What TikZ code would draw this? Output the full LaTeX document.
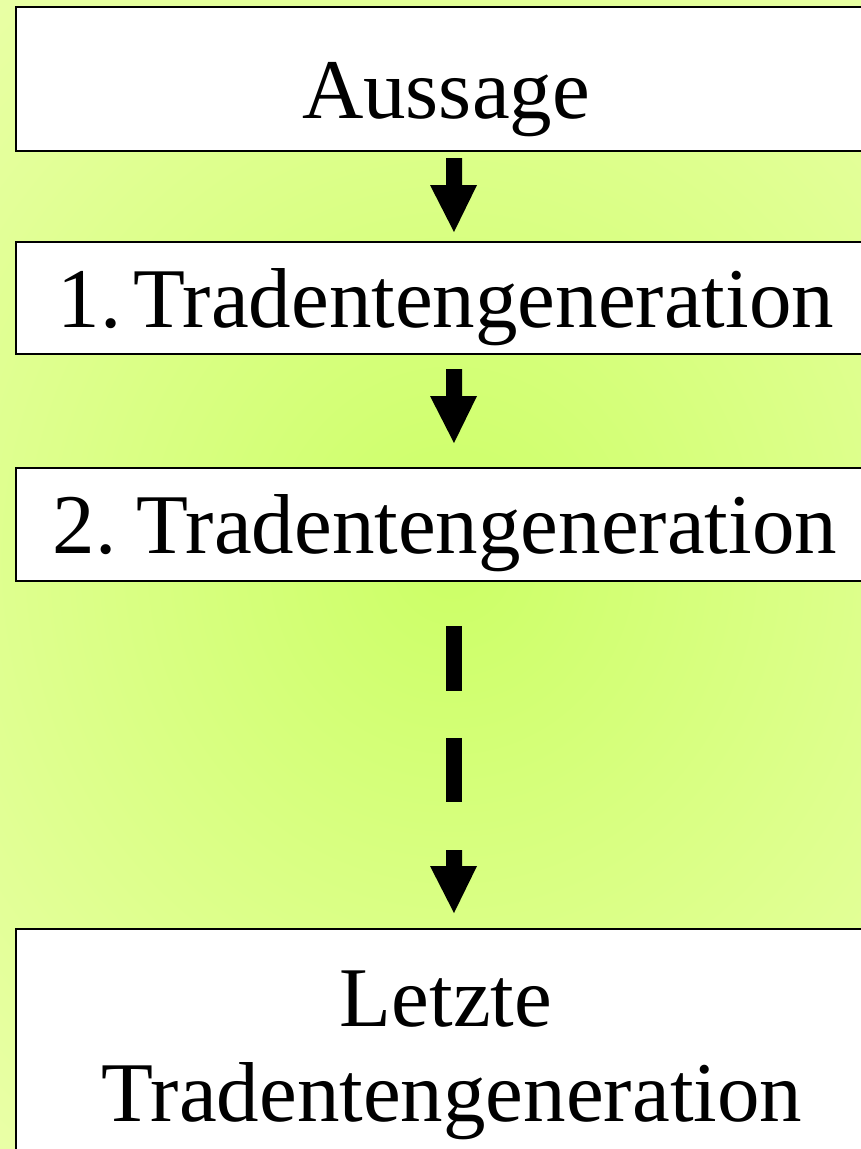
\documentclass[tikz,border=0pt]{standalone}
\usepackage{fontspec}
\setmainfont{Liberation Serif}
\definecolor{bgin}{RGB}{204,255,102}
\definecolor{bgout}{RGB}{245,255,192}
\newcommand\blockarrow[3]{\fill[black] (446,#1) -- (462,#1) -- (462,#2) -- (477,#2) -- (454,#3) -- (430,#2) -- (446,#2) -- cycle;}
\begin{document}
\begin{tikzpicture}[x=1pt,y=-1pt,
  box/.style={draw=black,line width=2.4pt,fill=white,anchor=north west,minimum width=870pt,inner sep=0pt},
  lbl/.style={anchor=base,font=\fontsize{85}{100}\selectfont,inner sep=0pt}]
\useasboundingbox (0,0) rectangle (861,1149);
\clip (0,0) rectangle (861,1149);
\fill[bgout] (0,0) rectangle (861,1149);
\shade[inner color=bgin,outer color=bgout] (452,560) ellipse [x radius=1000pt, y radius=1060pt];
% boxes
\node[box,minimum height=144pt] (b1) at (15,6) {};
\node[box,minimum height=112pt] (b2) at (15,241) {};
\node[box,minimum height=113pt] (b3) at (15,467) {};
\node[box,minimum height=250pt] (b4) at (15,928) {};
% labels
\node[lbl] (t1) at (446,118) {Aussage};
\node[lbl] (t2) at (446,327) {1.\hspace{12pt}Tradentengeneration};
\node[lbl] (t3) at (445,553) {2.\hspace{20pt}Tradentengeneration};
\node[lbl] (t4a) at (446,1026) {Letzte};
\node[lbl] (t4b) at (452,1121) {Tradentengeneration};
% arrows
\blockarrow{158}{185}{232}
\blockarrow{369}{396}{443}
\fill[black] (446,626) rectangle (462,691);
\fill[black] (446,738) rectangle (462,802);
\blockarrow{850}{866}{913}
\end{tikzpicture}
\end{document}
